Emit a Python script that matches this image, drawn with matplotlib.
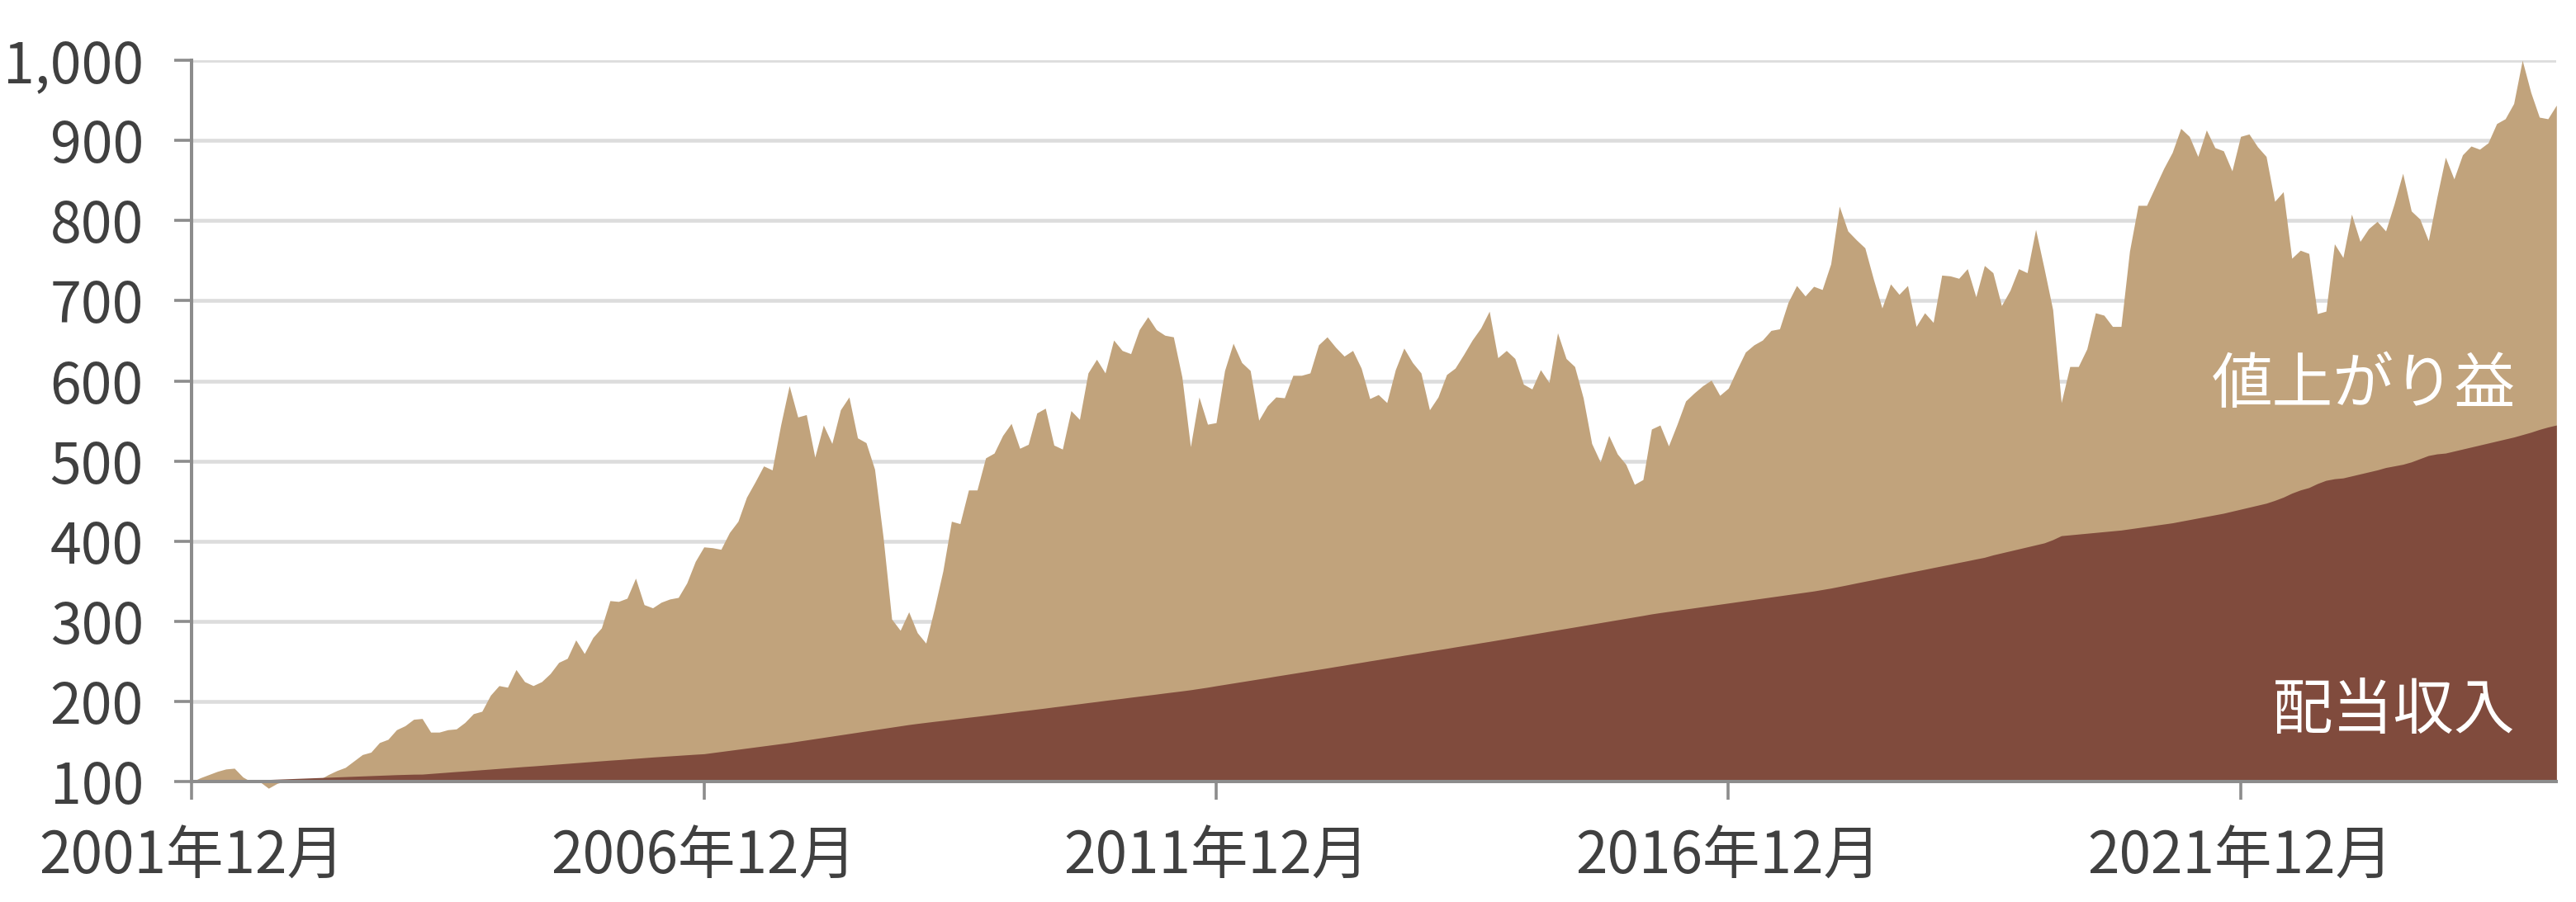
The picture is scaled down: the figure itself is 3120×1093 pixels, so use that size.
import numpy as np
import matplotlib
matplotlib.use("Agg")
import matplotlib.pyplot as plt

plt.rcParams['font.family'] = ['Noto Sans CJK JP', 'DejaVu Sans']

# monthly index, 2001年12月 = 100
total = [
    100, 105, 109, 113, 116, 117, 106, 100, 100, 92, 98, 101,
    101, 102, 102, 103, 109, 114, 118, 126, 134, 137, 149, 153,
    165, 170, 178, 179, 162, 162, 165, 166, 174, 185, 188, 208,
    220, 218, 240, 225, 220, 225, 235, 249, 254, 277, 260, 280,
    292, 326, 325, 329, 354, 321, 317, 324, 328, 330, 348, 375,
    393, 392, 390, 411, 425, 455, 474, 494, 489, 545, 594, 555,
    558, 505, 545, 522, 564, 580, 529, 523, 490, 405, 303, 289,
    312, 286, 273, 316, 363, 425, 422, 464, 464, 504, 510, 532,
    547, 516, 521, 560, 566, 520, 515, 563, 552, 610, 627, 610,
    651, 638, 634, 664, 680, 664, 657, 655, 605, 518, 580, 546,
    548, 613, 647, 623, 613, 551, 569, 580, 579, 607, 607, 610,
    645, 655, 642, 631, 638, 616, 578, 583, 573, 614, 641, 623,
    610, 564, 580, 608, 616, 633, 651, 666, 687, 629, 638, 628,
    596, 590, 614, 598, 660, 628, 618, 579, 522, 499, 532, 509,
    496, 471, 477, 540, 545, 519, 546, 575, 585, 594, 601, 582,
    591, 614, 636, 645, 651, 663, 665, 698, 719, 706, 718, 714,
    746, 818, 787, 776, 766, 727, 691, 721, 708, 719, 668, 685,
    673, 732, 731, 728, 740, 705, 744, 735, 694, 713, 740, 735,
    789, 740, 689, 573, 618, 618, 640, 685, 682, 668, 668, 762,
    819, 819, 842, 865, 885, 915, 905, 880, 913, 891, 887, 862,
    905, 908, 892, 880, 824, 836, 753, 763, 759, 684, 687, 771,
    754, 808, 774, 790, 799, 787, 821, 859, 812, 802, 775, 829,
    879, 852, 882, 893, 889, 897, 921, 927, 946, 1000, 960, 929,
    927, 944,
]

dividend = [
    100.0, 100.2, 100.5, 100.8, 101.0, 101.3, 101.6, 101.9, 102.5, 102.9, 103.3, 103.7,
    104.1, 104.5, 104.9, 105.3, 105.7, 106.1, 106.5, 106.9, 107.3, 107.7, 108.1, 108.5,
    108.9, 109.2, 109.5, 109.6, 110.4, 111.2, 112.0, 112.8, 113.5, 114.3, 115.1, 115.9,
    116.7, 117.5, 118.3, 119.1, 119.8, 120.6, 121.4, 122.2, 123.0, 123.8, 124.6, 125.4,
    126.2, 127.0, 127.7, 128.5, 129.3, 130.1, 130.9, 131.6, 132.3, 133.0, 133.7, 134.4,
    135.0, 136.4, 137.8, 139.2, 140.6, 142.0, 143.4, 144.8, 146.2, 147.6, 149.0, 150.6,
    152.2, 153.8, 155.4, 157.0, 158.6, 160.2, 161.8, 163.4, 165.0, 166.6, 168.2, 169.8,
    171.4, 172.8, 174.1, 175.4, 176.6, 177.9, 179.2, 180.5, 181.7, 183.0, 184.3, 185.6,
    186.9, 188.2, 189.4, 190.7, 192.0, 193.4, 194.7, 196.1, 197.4, 198.8, 200.1, 201.5,
    202.8, 204.1, 205.5, 206.8, 208.1, 209.4, 210.8, 212.1, 213.4, 214.8, 216.4, 218.0,
    219.8, 221.5, 223.2, 224.9, 226.6, 228.3, 230.0, 231.8, 233.5, 235.2, 236.9, 238.6,
    240.3, 242.0, 243.8, 245.5, 247.3, 249.0, 250.8, 252.5, 254.3, 256.0, 257.8, 259.5,
    261.2, 263.0, 264.7, 266.4, 268.2, 269.9, 271.6, 273.4, 275.1, 276.9, 278.7, 280.5,
    282.3, 284.1, 285.9, 287.7, 289.5, 291.3, 293.1, 294.9, 296.7, 298.5, 300.3, 302.1,
    303.9, 305.7, 307.5, 309.4, 311.0, 312.5, 314.0, 315.5, 317.0, 318.5, 320.0, 321.5,
    323.0, 324.5, 326.0, 327.5, 329.0, 330.5, 332.0, 333.5, 335.0, 336.5, 338.0, 339.8,
    341.6, 343.7, 345.8, 348.0, 350.1, 352.2, 354.4, 356.5, 358.6, 360.8, 362.9, 365.0,
    367.2, 369.3, 371.4, 373.6, 375.7, 377.9, 380.0, 383.0, 385.5, 388.0, 390.5, 393.0,
    395.5, 398.0, 402.0, 407.0, 408.0, 409.0, 410.0, 411.0, 412.0, 413.0, 414.0, 415.5,
    417.0, 418.5, 420.0, 421.5, 423.0, 425.0, 427.0, 429.0, 431.0, 433.0, 435.0, 437.5,
    440.0, 442.5, 445.0, 447.5, 451.0, 455.0, 460.0, 464.0, 467.0, 472.0, 476.0, 478.0,
    479.0, 481.5, 484.0, 486.5, 489.0, 492.0, 494.0, 496.0, 499.0, 503.0, 507.0, 509.0,
    510.0, 512.5, 515.0, 517.5, 520.0, 522.5, 525.0, 527.5, 530.0, 533.0, 536.0, 539.5,
    542.5, 545.0,
]

tick_pos = [0, 60, 120, 180, 240]
tick_labels = ['2001年12月', '2006年12月', '2011年12月', '2016年12月', '2021年12月']
y_ticks = [100, 200, 300, 400, 500, 600, 700, 800, 900, 1000]

tan = '#c1a37c'
brown = '#804b3d'
axis_grey = '#8c8c8c'
text_grey = '#404040'

x = np.arange(len(total))

fig = plt.figure(figsize=(31.2, 10.93), dpi=100)
ax = fig.add_axes([0.0744, 0.1332, 0.918, 0.80])

ax.fill_between(x, 100, total, color=tan, lw=0, clip_on=False, zorder=1)
ax.fill_between(x, 100, dividend, color=brown, lw=0, zorder=1.5)

ax.set_xlim(0, len(total) - 1)
ax.set_ylim(100, 1000)

ax.set_yticks(y_ticks)
ax.set_yticklabels([f'{v:,}' for v in y_ticks])
ax.set_xticks(tick_pos)
ax.set_xticklabels(tick_labels)

ax.yaxis.grid(True, color='#dcdcdc', lw=3.3)
ax.set_axisbelow(True)

for s in ['top', 'right']:
    ax.spines[s].set_visible(False)
for s in ['left', 'bottom']:
    ax.spines[s].set_color(axis_grey)
    ax.spines[s].set_linewidth(2.9)
    ax.spines[s].set_zorder(3)

ax.tick_params(axis='y', length=15, width=2.6, color=axis_grey, pad=27,
               labelsize=49, labelcolor=text_grey)
ax.tick_params(axis='x', length=16, width=2.6, color=axis_grey, pad=24,
               labelsize=50, labelcolor=text_grey)

ax.text(272.2, 594, '値上がり益', color='white', fontsize=53,
        ha='right', va='center', zorder=4)
ax.text(272.2, 188, '配当収入', color='white', fontsize=53,
        ha='right', va='center', zorder=4)

fig.savefig('out.png', dpi=100)
